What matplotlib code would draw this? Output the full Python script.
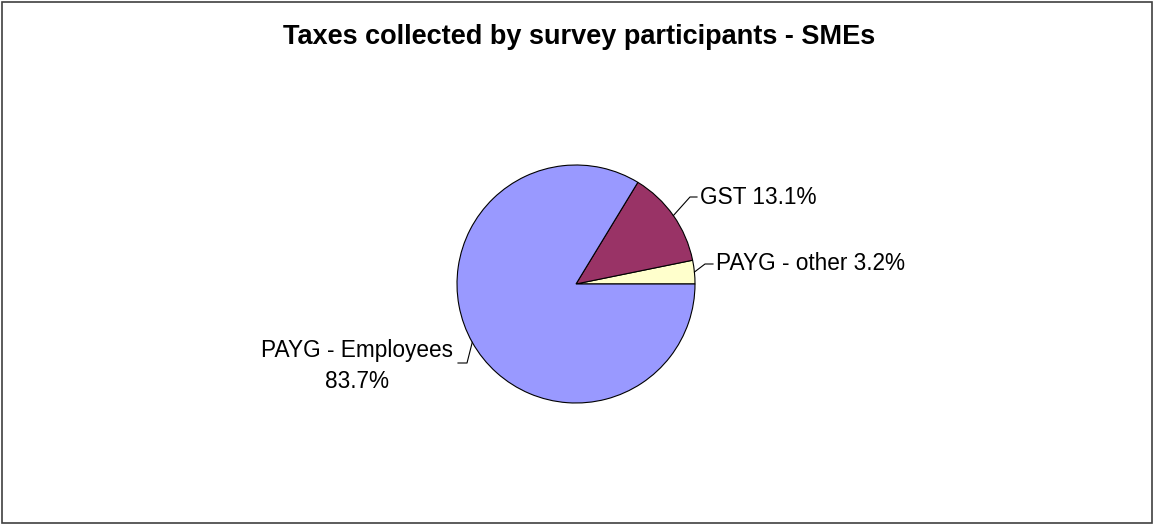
import numpy as np
import matplotlib.pyplot as plt
from matplotlib.patches import Rectangle

plt.rcParams['font.family'] = ['Liberation Sans', 'DejaVu Sans']

title = 'Taxes collected by survey participants - SMEs'
labels = ['PAYG - other', 'GST', 'PAYG - Employees']
shares = [3.2, 13.1, 83.7]
colors = ['#FFFFCC', '#993366', '#9999FF']

W, H = 1153, 525
fig = plt.figure(figsize=(W / 100, H / 100), dpi=100)

# pie centre and radius in pixels
cx, cy, r = 576, 284, 119
ax = fig.add_axes([(cx - r) / W, (H - cy - r) / H, 2 * r / W, 2 * r / H])
wedges, _ = ax.pie(shares, colors=colors, startangle=0, counterclock=True,
                   radius=1, wedgeprops=dict(edgecolor='black', linewidth=0.8))
ax.set_xlim(-1, 1)
ax.set_ylim(-1, 1)
ax.axis('off')

# pixel position -> data units of the pie axes
def px(x, y):
    return (x - cx) / r, (cy - y) / r

layout = {
    'GST': dict(elbow=(690, 197), end=(697, 197), text=(700, 197), ha='left',
                txt='GST {:.1f}%'),
    'PAYG - other': dict(elbow=(705, 264), end=(713, 264), text=(716, 264), ha='left',
                         txt='PAYG - other {:.1f}%'),
    'PAYG - Employees': dict(elbow=(467, 363), end=(458, 363), text=(453, 366), ha='right',
                             txt='PAYG - Employees\n{:.1f}%'),
}

for w, lab, val in zip(wedges, labels, shares):
    mid = np.deg2rad((w.theta1 + w.theta2) / 2)
    x0, y0 = np.cos(mid), np.sin(mid)
    lo = layout[lab]
    ex, ey = px(*lo['elbow'])
    fx, fy = px(*lo['end'])
    ax.plot([x0, ex, fx], [y0, ey, fy], color='black', lw=0.8, clip_on=False)
    tx, ty = px(*lo['text'])
    ax.text(tx, ty, lo['txt'].format(val), ha=lo['ha'], va='center',
            multialignment='center', fontsize=16.3, linespacing=1.45)

fig.text(579 / W, 1 - 37 / H, title, ha='center', va='center',
         fontsize=19.5, fontweight='bold')

fig.patches.append(Rectangle((1.5 / W, 2 / H), (W - 2.5) / W, (H - 4) / H,
                             transform=fig.transFigure, fill=False,
                             edgecolor='#404040', linewidth=1.2))

fig.savefig('out.png', dpi=100)
